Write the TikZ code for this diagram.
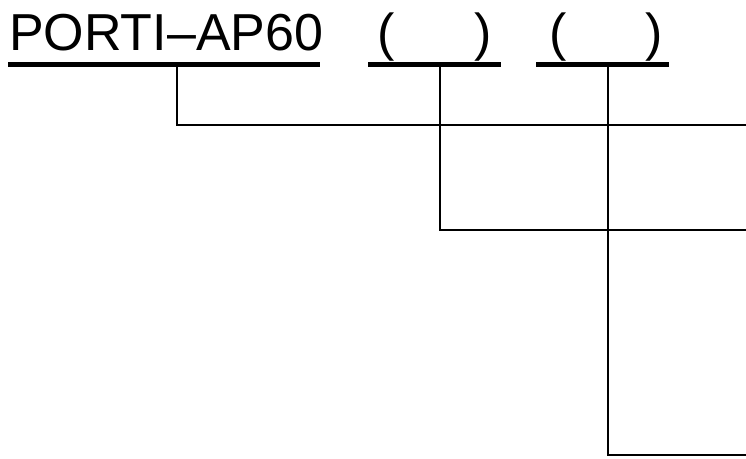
\documentclass[tikz,border=0pt]{standalone}
\usepackage{fontspec}
\setmainfont{Liberation Sans}
\usetikzlibrary{calc}

\begin{document}
\begin{tikzpicture}[x=1pt, y=-1pt,
		bar/.style={line width=5pt},
		lead/.style={line width=1.4pt},
		big/.style={inner sep=0pt, anchor=base, font=\fontsize{52}{60}\selectfont}]
				\useasboundingbox (0,0) rectangle (746,458);
				% code and the two open fields
				\node [big, anchor=base west] (code) at (9,50) {PORTI–AP60};
				\node [big] (open1) at (386,50) {(};
				\node [big] (close1) at (483,50) {)};
				\node [big] (open2) at (558,50) {(};
				\node [big] (close2) at (654,50) {)};
				% underlines
				\draw [bar] (8,64) -- (320,64);
				\draw [bar] (368,64) -- (501,64);
				\draw [bar] (536,64) -- (669,64);
				% leads to the right
				\coordinate (top1) at (177,66);
				\coordinate (top2) at (440,66);
				\coordinate (top3) at (608,66);
				\coordinate (end1) at (746,125);
				\coordinate (end2) at (746,230);
				\coordinate (end3) at (746,455);
				\draw [lead] (top1) |- (end1);
				\draw [lead] (top2) |- (end2);
				\draw [lead] (top3) |- (end3);
			\end{tikzpicture}
\end{document}
